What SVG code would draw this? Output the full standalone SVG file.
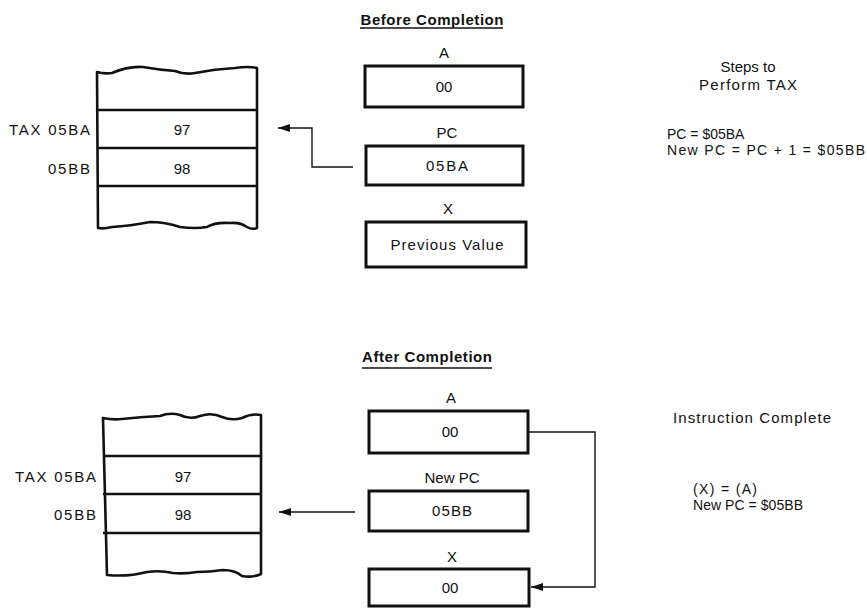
<svg xmlns="http://www.w3.org/2000/svg" width="867" height="610" viewBox="0 0 867 610">
<defs>
<style>
text{font-family:"Liberation Sans",Arial,sans-serif;font-size:15px;fill:#111}
.c{text-anchor:middle}
.r{text-anchor:end}
.b{font-weight:bold}
.n{font-size:14px}
.box{fill:#fff;stroke:#111;stroke-width:3}
.mem{fill:none;stroke:#111;stroke-width:2.6;stroke-linejoin:round}
.conn{fill:none;stroke:#111;stroke-width:1.4}
</style>
<marker id="ah" viewBox="0 0 12 8" refX="12" refY="4" markerWidth="12" markerHeight="8" markerUnits="userSpaceOnUse" orient="auto">
<path d="M0,0 L12,4 L0,8 z" fill="#111"/>
</marker>
</defs>
<rect width="867" height="610" fill="#fff"/>

<!-- Titles -->
<g id="title-before">
<text class="c b" x="432" y="25" textLength="143">Before Completion</text>
<line x1="360" y1="28" x2="503" y2="28" stroke="#111" stroke-width="1.4"/>
</g>
<g id="title-after">
<text class="c b" x="427" y="362" textLength="130">After Completion</text>
<line x1="362" y1="368" x2="492" y2="368" stroke="#111" stroke-width="1.4"/>
</g>

<!-- Top memory -->
<g id="mem-before">
<path class="mem" d="M97,72 Q104,74 112,73 Q128,66 143,67 Q160,70 175,71 Q185,75 195,73 Q215,69 235,68 Q248,66 257,68 L257,228 Q252,230 247,227 Q240,222 230,223 Q215,222 207,227 Q195,229 180,227 Q165,222 150,222 Q130,226 112,227 Q104,229 98,228 Z"/>
<line x1="97" y1="110" x2="257" y2="110" stroke="#111" stroke-width="2.6"/>
<line x1="97" y1="148" x2="257" y2="148" stroke="#111" stroke-width="2.6"/>
<line x1="97" y1="186" x2="257" y2="186" stroke="#111" stroke-width="2.6"/>
<text class="c" x="182" y="135">97</text>
<text class="c" x="182" y="174">98</text>
<text class="r" x="90" y="135" textLength="81">TAX 05BA</text>
<text class="r" x="90" y="174" textLength="42">05BB</text>
</g>

<!-- Top registers -->
<g id="reg-a-before">
<text class="c" x="444" y="58">A</text>
<rect class="box" x="365" y="66" width="158" height="41"/>
<text class="c" x="444" y="92">00</text>
</g>
<g id="reg-pc-before">
<text class="c" x="447" y="138">PC</text>
<rect class="box" x="366" y="146" width="157" height="39"/>
<text class="c" x="447" y="171" textLength="42">05BA</text>
</g>
<g id="reg-x-before">
<text class="c" x="448" y="214">X</text>
<rect class="box" x="366" y="222" width="160" height="45"/>
<text class="c" x="447" y="250" textLength="113">Previous Value</text>
</g>

<g id="note-before">
<text class="c" x="748" y="72">Steps to</text>
<text class="c" x="748" y="90" textLength="98">Perform TAX</text>
<text class="n" x="667" y="139">PC = $05BA</text>
<text class="n" x="667" y="155" textLength="198">New PC = PC + 1 = $05BB</text>
</g>

<!-- Bottom memory -->
<g id="mem-after">
<path class="mem" d="M103,418 Q112,420 122,419 Q140,417 160,416 Q170,412 180,415 Q190,420 200,416 Q212,412 222,417 Q232,421 242,418 Q252,413 261,415 L261,574 Q252,578 242,576 Q235,570 223,570 Q210,572 197,572 Q185,574 173,573 Q160,570 147,572 Q128,577 107,575 Z"/>
<line x1="103" y1="456" x2="261" y2="456" stroke="#111" stroke-width="2.6"/>
<line x1="103" y1="494" x2="261" y2="494" stroke="#111" stroke-width="2.6"/>
<line x1="103" y1="533" x2="261" y2="533" stroke="#111" stroke-width="2.6"/>
<text class="c" x="183" y="482">97</text>
<text class="c" x="183" y="520">98</text>
<text class="r" x="96" y="482" textLength="81">TAX 05BA</text>
<text class="r" x="96" y="520" textLength="42">05BB</text>
</g>

<!-- Bottom registers -->
<g id="reg-a-after">
<text class="c" x="451" y="403">A</text>
<rect class="box" x="369" y="411" width="159" height="42"/>
<text class="c" x="450" y="437">00</text>
</g>
<g id="reg-pc-after">
<text class="c" x="452" y="483">New PC</text>
<rect class="box" x="369" y="491" width="159" height="40"/>
<text class="c" x="452" y="516" textLength="40">05BB</text>
</g>
<g id="reg-x-after">
<text class="c" x="452" y="562">X</text>
<rect class="box" x="369" y="569" width="160" height="37"/>
<text class="c" x="450" y="593">00</text>
</g>

<g id="note-after">
<text x="673" y="423" textLength="158">Instruction Complete</text>
<text class="n" x="693" y="494" textLength="64">(X) = (A)</text>
<text class="n" x="693" y="510" textLength="110">New PC = $05BB</text>
</g>

<!-- Connectors -->
<g id="connectors">
<path class="conn" d="M353,167 H312 V128 H278" marker-end="url(#ah)"/>
<path class="conn" d="M355,512 H279" marker-end="url(#ah)"/>
<path class="conn" d="M528,432 H595 V587 H531" marker-end="url(#ah)"/>
</g>
</svg>
